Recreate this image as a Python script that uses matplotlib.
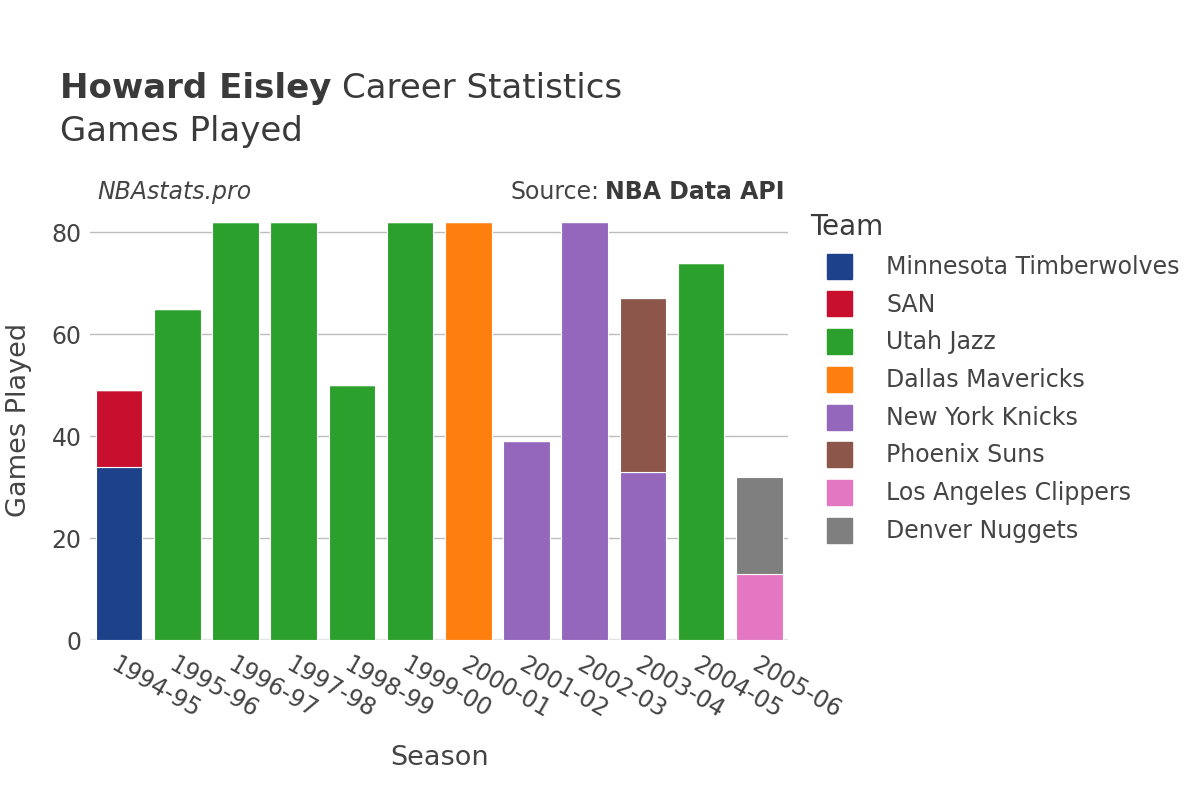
import numpy as np
import matplotlib.pyplot as plt
from matplotlib.lines import Line2D

plt.rcParams['font.family'] = ['DejaVu Sans']

# ---- data ----
seasons = ['1994-95', '1995-96', '1996-97', '1997-98', '1998-99', '1999-00',
           '2000-01', '2001-02', '2002-03', '2003-04', '2004-05', '2005-06']
teams = ['Minnesota Timberwolves', 'SAN', 'Utah Jazz', 'Dallas Mavericks',
         'New York Knicks', 'Phoenix Suns', 'Los Angeles Clippers', 'Denver Nuggets']
team_colors = ['#1d428a', '#c8102e', '#2ca02c', '#ff7f0e',
               '#9467bd', '#8c564b', '#e377c2', '#7f7f7f']
# games per season for each team (stacked in this order)
min_games = [34, 0, 0, 0, 0, 0, 0, 0, 0, 0, 0, 0]
san_games = [15, 0, 0, 0, 0, 0, 0, 0, 0, 0, 0, 0]
uta_games = [0, 65, 82, 82, 50, 82, 0, 0, 0, 0, 74, 0]
dal_games = [0, 0, 0, 0, 0, 0, 82, 0, 0, 0, 0, 0]
nyk_games = [0, 0, 0, 0, 0, 0, 0, 39, 82, 33, 0, 0]
phx_games = [0, 0, 0, 0, 0, 0, 0, 0, 0, 34, 0, 0]
lac_games = [0, 0, 0, 0, 0, 0, 0, 0, 0, 0, 0, 13]
den_games = [0, 0, 0, 0, 0, 0, 0, 0, 0, 0, 0, 19]
games = [min_games, san_games, uta_games, dal_games,
         nyk_games, phx_games, lac_games, den_games]

TXT = '#444444'
DARK = '#3a3a3a'

# ---- figure ----
fig = plt.figure(figsize=(12, 8), dpi=100)
ax = fig.add_axes([0.075, 0.2, 0.582, 0.55])

x = np.arange(len(seasons))
bottom = np.zeros(len(seasons))
for vals, col in zip(games, team_colors):
    v = np.array(vals, dtype=float)
    ax.bar(x, v, width=0.8, bottom=bottom, color=col,
           edgecolor='white', linewidth=0.8, zorder=3)
    bottom += v

ax.set_xlim(-0.5, len(seasons) - 0.5)
ax.set_ylim(0, 86.3)
ax.set_yticks([0, 20, 40, 60, 80])
ax.yaxis.grid(True, color='#bdbdbd', linewidth=1, zorder=0)
ax.axhline(0, color='#e5e5e5', linewidth=2.5, zorder=2)
for s in ax.spines.values():
    s.set_visible(False)
ax.tick_params(axis='both', length=0, labelsize=17, labelcolor=TXT)
ax.tick_params(axis='y', pad=6)
ax.set_xticks(x)
ax.set_xticklabels(seasons, rotation=-30, ha='left', va='top',
                   rotation_mode='anchor')
ax.tick_params(axis='x', pad=9)

ax.set_xlabel('Season', fontsize=19.5, color=TXT, labelpad=16)
ax.set_ylabel('Games Played', fontsize=19.5, color=TXT, labelpad=14)

# ---- titles ----
renderer = fig.canvas.get_renderer()
t1 = fig.text(0.05, 0.889, 'Howard Eisley', fontsize=24.5, fontweight='bold',
              color=DARK, va='center')
bb = t1.get_window_extent(renderer)
fig.text(bb.x1 / 1200 + 0.009, 0.889, 'Career Statistics', fontsize=24.5,
         color=DARK, va='center')
fig.text(0.05, 0.835, 'Games Played', fontsize=24.5, color=DARK, va='center')
fig.text(0.081, 0.76, 'NBAstats.pro', fontsize=17, style='italic',
         color=TXT, va='center')
t2 = fig.text(0.654, 0.76, 'NBA Data API', fontsize=17, fontweight='bold',
              color=DARK, va='center', ha='right')
bb2 = t2.get_window_extent(renderer)
fig.text(bb2.x0 / 1200 - 0.005, 0.76, 'Source:', fontsize=17, color=TXT,
         va='center', ha='right')

# ---- legend ----
handles = [Line2D([0], [0], marker='s', linestyle='none', markersize=18,
                  markerfacecolor=c, markeredgecolor=c) for c in team_colors]
leg = fig.legend(handles, teams, loc='upper left', bbox_to_anchor=(0.661, 0.754),
                 frameon=False, fontsize=17, title='Team', title_fontsize=20,
                 labelspacing=0.58, handletextpad=0.75, borderpad=0.2,
                 handlelength=2.5)
leg._legend_box.align = 'left'
for t in leg.get_texts():
    t.set_color(TXT)
leg.get_title().set_color(DARK)

fig.savefig('out.png', dpi=100, facecolor='white')
